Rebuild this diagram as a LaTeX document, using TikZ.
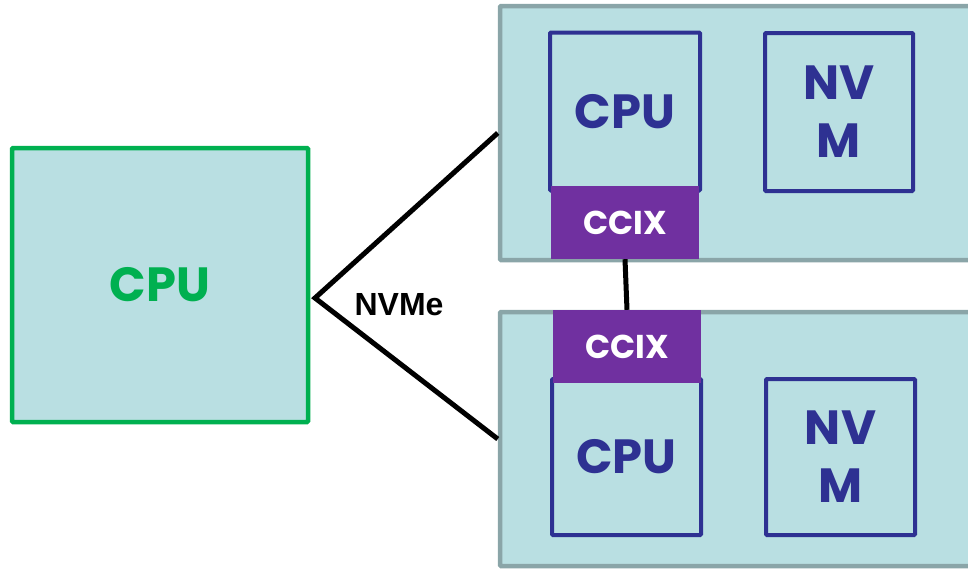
\documentclass[tikz,border=0pt]{standalone}
\usepackage{fontspec}
\setmainfont{Poppins}
\newfontfamily\labelfont{Liberation Sans}
\definecolor{boardfill}{HTML}{B9DFE2}
\definecolor{boardedge}{HTML}{8AA5A8}
\definecolor{chipblue}{HTML}{2E3192}
\definecolor{ccixpurple}{HTML}{7030A0}
\definecolor{hostgreen}{HTML}{00B050}
\tikzset{
  board/.style={draw=boardedge, fill=boardfill, line width=4.5pt, rounded corners=1pt,
    minimum width=500pt, minimum height=254pt, inner sep=0pt},
  hostbox/.style={draw=hostgreen, fill=boardfill, line width=4.5pt, rounded corners=1pt,
    minimum width=296pt, minimum height=274pt, inner sep=0pt, text=hostgreen,
    font=\bfseries\fontsize{48}{58}\selectfont},
  chip/.style={draw=chipblue, line width=4pt, rounded corners=1pt, inner sep=0pt,
    minimum width=150pt, minimum height=158pt, text=chipblue, align=center,
    font=\bfseries\fontsize{48}{58}\selectfont},
  ccix/.style={fill=ccixpurple, minimum width=148pt, minimum height=73pt, inner sep=0pt,
    text=white, font=\bfseries\fontsize{33}{36}\selectfont},
  wire/.style={black, line width=5pt},
}
\begin{document}
\begin{tikzpicture}[x=1pt, y=-1pt]
\useasboundingbox (0,0) rectangle (968,570);
\clip (0,0) rectangle (968,570);

% host processor
\node[hostbox] (host) at (160,285) {CPU};

% two accelerator cards
\node[board] (topcard) at (750,133) {};
\node[board] (botcard) at (750,439) {};

\node[chip] (topcpu) at (625,111.5) {CPU};
\node[chip, minimum width=148pt] (topnvm) at (839,112) {NV\\M};
\node[ccix] (topccix) at (625,222.5) {CCIX};

\node[chip, minimum width=149pt, minimum height=156pt] (botcpu) at (626.5,457) {CPU};
\node[chip, minimum width=149pt, minimum height=156pt] (botnvm) at (840.5,457) {NV\\M};
\node[ccix] (botccix) at (627,346.5) {CCIX};

% NVMe fan-out and CCIX link
\coordinate (hub) at (315,298);
\draw[wire, line join=miter] (topcard.west) -- (hub) -- (botcard.west);
\node[font=\labelfont\bfseries\fontsize{32}{38}\selectfont] (nvme) at (399,305) {NVMe};
\draw[wire] (topccix.south) -- (botccix.north);
\end{tikzpicture}
\end{document}
